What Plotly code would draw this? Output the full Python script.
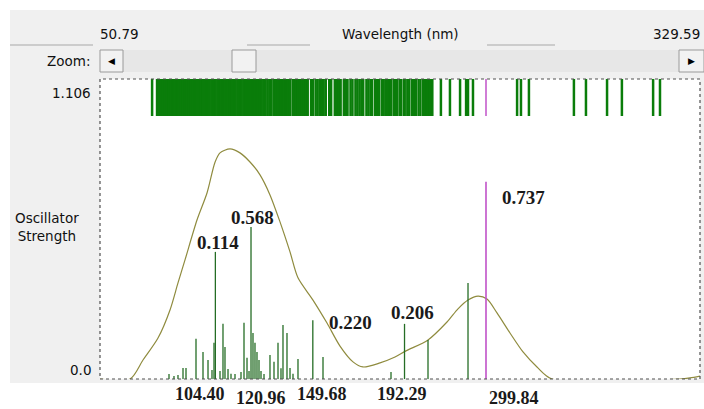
import plotly.graph_objects as go

# ---------------- data ----------------
x_range = [50.79, 329.59]          # wavelength window (nm)
y_max_label = "1.106"

# visible stick transitions (wavelength nm, oscillator strength)
stick_wl = [82.85, 85.17, 87.03, 89.36, 90.75, 95.40, 98.65, 100.98, 102.83, 103.76,
            104.40, 106.55, 107.94, 108.87, 110.27, 111.66, 113.52, 116.31, 117.70, 119.10,
            120.03, 120.96, 121.88, 122.81, 123.74, 124.67, 125.60, 127.00, 129.78, 131.64,
            133.50, 134.89, 135.82, 137.68, 139.08, 140.47, 142.79, 149.68, 154.41, 186.01,
            192.29, 203.20, 221.79]
stick_f = [0.019, 0.011, 0.015, 0.041, 0.041, 0.150, 0.101, 0.071, 0.034, 0.135,
           0.475, 0.030, 0.206, 0.120, 0.037, 0.020, 0.019, 0.026, 0.210, 0.079,
           0.030, 0.568, 0.172, 0.135, 0.101, 0.071, 0.030, 0.019, 0.090, 0.064,
           0.135, 0.040, 0.202, 0.172, 0.041, 0.020, 0.075, 0.220, 0.082, 0.026,
           0.206, 0.146, 0.359]

# selected (highlighted) transition
sel_wl = [230.15]
sel_f = [0.737]

# weak transitions (only visible in the transition bar at the top)
weak_wl = [75.0,
           77.3, 78.2, 79.1, 80.1, 81.0, 81.9, 82.9, 83.8, 84.7, 85.7, 86.6, 87.5, 88.5, 89.4,
           90.3, 91.3, 92.2, 93.1, 94.1, 95.0, 95.9, 96.9, 97.8, 98.7, 99.7, 100.6, 101.5,
           102.5, 103.4, 104.3, 105.3, 106.2, 107.1, 108.1, 109.0, 109.9, 110.9, 111.8, 112.7,
           113.7, 114.6, 115.5, 116.5, 117.4, 118.3, 119.3, 120.2, 121.1, 122.1, 123.0, 123.9,
           124.9, 125.8, 126.7, 127.7, 128.6, 129.5, 130.5,
           131.7, 132.6, 133.5, 134.5, 135.4, 136.3, 137.3, 138.2, 139.2,
           140.9, 141.8, 142.8, 143.7, 144.6, 145.6, 146.5, 147.3,
           148.9, 149.7,
           151.0, 151.9, 152.9, 153.8, 154.7, 155.7,
           157.3, 158.2,
           159.9, 160.8, 161.8, 162.6,
           164.1, 165.0, 165.8,
           167.2, 168.1,
           169.5, 170.4, 171.4, 172.3, 173.1,
           174.6, 175.5, 176.5, 177.2,
           178.6, 179.6, 180.4,
           181.7, 182.6, 183.6, 184.5, 185.4, 186.0,
           187.3, 188.2, 188.8,
           190.0, 190.6,
           191.9, 192.3,
           193.6, 194.5,
           195.8, 196.7, 197.5,
           198.8, 199.7,
           201.0, 201.9, 202.5,
           203.8, 204.7, 205.2,
           209.2, 213.4, 218.1, 220.9, 224.1, 244.6, 246.4, 250.1,
           271.0, 276.6, 286.4, 293.3, 307.8, 311.0]

# broadened spectrum
curve_wl = [50.79, 64.73, 70.77, 77.74, 83.32, 87.03, 90.29, 95.86, 100.51, 104.23,
            106.55, 111.20, 115.84, 120.49, 125.14, 129.78, 134.43, 139.08, 142.79, 149.76,
            156.27, 162.31, 168.35, 172.99, 180.90, 187.87, 192.98, 203.20, 212.03, 217.14,
            221.79, 226.44, 230.62, 235.26, 241.30, 247.35, 253.85, 260.82, 320.30, 324.94,
            329.59]
curve_f = [0.000, 0.000, 0.071, 0.153, 0.258, 0.359, 0.445, 0.594, 0.695, 0.810,
           0.845, 0.860, 0.845, 0.811, 0.763, 0.688, 0.587, 0.475, 0.378, 0.295,
           0.209, 0.123, 0.064, 0.045, 0.060, 0.082, 0.105, 0.146, 0.213, 0.262,
           0.295, 0.310, 0.299, 0.247, 0.172, 0.101, 0.045, 0.000, 0.000, 0.004,
           0.011]

value_labels = ["0.114", "0.568", "0.220", "0.206", "0.737"]
wl_labels = ["104.40", "120.96", "149.68", "192.29", "299.84"]

# ---------------- figure ----------------
W, H = 704, 409
L, R, T, B = 100, 4, 79, 30
PW, PH = W - L - R, H - T - B


def px(xp):
    return (xp - L) / PW


def py(yp):
    return (H - B - yp) / PH


STICK = "#256d25"
BAND = "#0a7d0a"
SEL = "#c052c8"
CURVE = "#8f8b3e"
UI_GREY = "#f0f0f0"


def segs(xs, y0s, y1s):
    X, Y = [], []
    for x, a, b in zip(xs, y0s, y1s):
        X += [x, x, None]
        Y += [a, b, None]
    return X, Y


fig = go.Figure()

# broadened curve
fig.add_trace(go.Scatter(x=curve_wl, y=curve_f, mode="lines",
                         line=dict(color=CURVE, width=1.2, shape="spline", smoothing=0.8),
                         hoverinfo="skip", showlegend=False))

# sticks
sx, sy = segs(stick_wl, [0] * len(stick_wl), stick_f)
fig.add_trace(go.Scatter(x=sx, y=sy, mode="lines", line=dict(color=STICK, width=1.3),
                         hoverinfo="skip", showlegend=False))
mx, my = segs(sel_wl, [0] * len(sel_wl), sel_f)
fig.add_trace(go.Scatter(x=mx, y=my, mode="lines", line=dict(color=SEL, width=1.6),
                         hoverinfo="skip", showlegend=False))

# transition bar (top)
all_wl = sorted(set(weak_wl + stick_wl))
bx, by = segs(all_wl, [0] * len(all_wl), [1] * len(all_wl))
fig.add_trace(go.Scatter(x=bx, y=by, mode="lines", line=dict(color=BAND, width=2.5),
                         yaxis="y2", hoverinfo="skip", showlegend=False))
bmx, bmy = segs(sel_wl, [0], [1])
fig.add_trace(go.Scatter(x=bmx, y=bmy, mode="lines", line=dict(color=SEL, width=1.5),
                         yaxis="y2", hoverinfo="skip", showlegend=False))

band_bottom = py(116)

fig.update_layout(
    width=W, height=H,
    margin=dict(l=L, r=R, t=T, b=B),
    paper_bgcolor="white", plot_bgcolor="white",
    xaxis=dict(range=x_range, showgrid=False, zeroline=False, showticklabels=False,
               ticks="", showline=False, fixedrange=True),
    yaxis=dict(range=[0, PH / 267.6], domain=[0, 1], showgrid=False, zeroline=False,
               showticklabels=False, ticks="", showline=False, fixedrange=True),
    yaxis2=dict(range=[0, 1], domain=[band_bottom, 1], anchor="x", showgrid=False,
                zeroline=False, showticklabels=False, visible=False, fixedrange=True),
    font=dict(family="DejaVu Sans", size=13, color="black"),
    showlegend=False,
)

shapes = []
# grey UI panel
shapes.append(dict(type="rect", xref="paper", yref="paper", x0=px(10), x1=px(W + 2),
                   y0=py(383), y1=py(10), fillcolor=UI_GREY, line=dict(width=0), layer="below"))
# white plot area
shapes.append(dict(type="rect", xref="paper", yref="paper", x0=0, x1=1, y0=0, y1=1,
                   fillcolor="white", line=dict(width=0), layer="below"))
# groove lines at the top
for a, b in [(10, 93), (247, 310), (487, 555)]:
    shapes.append(dict(type="line", xref="paper", yref="paper", x0=px(a), x1=px(b),
                       y0=py(45), y1=py(45), line=dict(color="#a8a8a8", width=1)))
# scroll track
shapes.append(dict(type="rect", xref="paper", yref="paper", x0=px(123), x1=px(679),
                   y0=py(72), y1=py(50), fillcolor="#e7e7e7", line=dict(width=0)))
# buttons + thumb
for a, b in [(100, 123), (679, 704), (232, 256)]:
    shapes.append(dict(type="rect", xref="paper", yref="paper", x0=px(a), x1=px(b),
                       y0=py(72), y1=py(50), fillcolor="#f2f2f2",
                       line=dict(color="#9a9a9a", width=1)))
# dotted plot frame
shapes.append(dict(type="rect", xref="paper", yref="paper", x0=0, x1=1, y0=0, y1=1,
                   line=dict(color="#505050", width=1.2, dash="dot"), layer="above"))
fig.update_layout(shapes=shapes)

ann = []
ui = dict(family="DejaVu Sans", size=13.5, color="#111")


def note(text, xp, yp, font, xanchor="center"):
    ann.append(dict(text=text, x=px(xp), y=py(yp), xref="paper", yref="paper",
                    xanchor=xanchor, yanchor="middle", showarrow=False, font=font))


note(f"{x_range[0]:.2f}", 119, 34, ui)
note("Wavelength (nm)", 400, 34, ui)
note(f"{x_range[1]:.2f}", 702, 34, ui, "right")
note("Zoom:", 92, 61, ui, "right")
note("◀", 111.5, 61, dict(family="DejaVu Sans", size=9, color="black"))
note("▶", 691.5, 61, dict(family="DejaVu Sans", size=9, color="black"))
note(y_max_label, 93, 93, ui, "right")
note("0.0", 93, 370, ui, "right")
note("Oscillator<br>Strength", 47, 227, ui)

bold = dict(family="Liberation Serif", size=19, color="#1a1a1a")
val_pos = [(218, 242), (252, 217), (350, 322), (412, 312), (523, 197)]
for t, (a, b) in zip(value_labels, val_pos):
    note(f"<b>{t}</b>", a, b, bold)
bold_b = dict(family="Liberation Serif", size=18, color="#1a1a1a")
wl_pos = [(200, 394), (261, 398), (322, 394), (402, 394), (514, 398)]
for t, (a, b) in zip(wl_labels, wl_pos):
    note(f"<b>{t}</b>", a, b, bold_b)
fig.update_layout(annotations=ann)

fig.write_html("out.html", config={"displayModeBar": False, "staticPlot": True},
               post_script="document.body.style.margin='0';document.body.style.overflow='hidden';")
